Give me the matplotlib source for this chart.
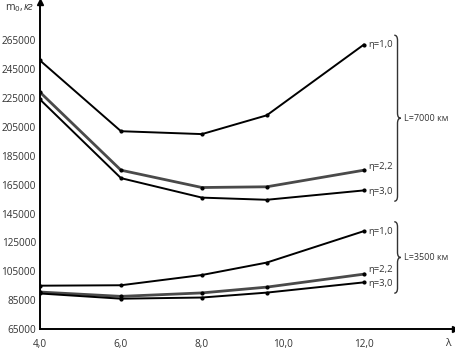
import matplotlib.pyplot as plt
import numpy as np
from matplotlib.path import Path
from matplotlib.patches import PathPatch

plt.rcParams['font.family'] = ['Open Sans', 'DejaVu Sans']

# === Data ===
lam = [4.0, 6.0, 8.0, 9.6, 12.0]
# L = 7000 km
m_7000_eta10 = [251000, 202000, 200000, 213000, 262000]
m_7000_eta22 = [229000, 175000, 163000, 163500, 175000]
m_7000_eta30 = [224000, 169500, 156000, 154500, 161000]
# L = 3500 km
m_3500_eta10 = [95000, 95300, 102400, 111000, 132800]
m_3500_eta22 = [90600, 87600, 90000, 94000, 103000]
m_3500_eta30 = [89600, 86000, 86800, 90200, 97300]

eta_labels = ["η=1,0", "η=2,2", "η=3,0"]
x_ticks = [4, 6, 8, 10, 12]
x_ticklabels = ["4,0", "6,0", "8,0", "10,0", "12,0"]
y_ticks = np.arange(65000, 265001, 20000)

groups = [
    ("L=7000 км", [m_7000_eta10, m_7000_eta22, m_7000_eta30]),
    ("L=3500 км", [m_3500_eta10, m_3500_eta22, m_3500_eta30]),
]
colors = ["black", "#4a4a4a", "black"]
widths = [1.4, 2.0, 1.4]
label_shift = [0, 3, -1]   # points, keeps eta labels apart

fig = plt.figure(figsize=(4.56, 3.51), dpi=100)
ax = fig.add_axes([40 / 456, 22 / 351, 415 / 456, 327 / 351])
ax.set_xlim(4.0, 14.25)
ax.set_ylim(65000, 291500)

for _, series in groups:
    for vals, c, lw in zip(series, colors, widths):
        ax.plot(lam, vals, color=c, lw=lw, marker="o", ms=2, mfc="black", mec="black")


def brace(ax, x, y0, y1, w=0.16, r=3500):
    ym = (y0 + y1) / 2
    verts = [(x, y1), (x + w / 2, y1), (x + w / 2, y1 - r),
             (x + w / 2, ym + r), (x + w / 2, ym), (x + w, ym),
             (x + w / 2, ym), (x + w / 2, ym - r),
             (x + w / 2, y0 + r), (x + w / 2, y0), (x, y0)]
    codes = [Path.MOVETO, Path.CURVE3, Path.CURVE3,
             Path.LINETO, Path.CURVE3, Path.CURVE3,
             Path.CURVE3, Path.CURVE3,
             Path.LINETO, Path.CURVE3, Path.CURVE3]
    ax.add_patch(PathPatch(Path(verts, codes), fc="none", ec="#333333", lw=1.0,
                           clip_on=False))
    return x + w, ym


for name, series in groups:
    ends = [s[-1] for s in series]
    for lab, v, sh in zip(eta_labels, ends, label_shift):
        ax.annotate(lab, (lam[-1], v), xytext=(3, sh), textcoords="offset points",
                    fontsize=6.8, va="center", ha="left", color="#333333")
    xr, ym = brace(ax, 12.75, min(ends) - 7500, max(ends) + 6500)
    ax.text(xr + 0.08, ym, name, fontsize=6.5, va="center", ha="left", color="#333333")

for s in ["top", "right"]:
    ax.spines[s].set_visible(False)
for s in ["left", "bottom"]:
    ax.spines[s].set_linewidth(1.4)
ax.plot(1, 0, ">k", ms=4, transform=ax.transAxes, clip_on=False)
ax.plot(0, 1, "^k", ms=4, transform=ax.transAxes, clip_on=False)

ax.set_xticks(x_ticks)
ax.set_xticklabels(x_ticklabels)
ax.set_yticks(y_ticks)
ax.tick_params(length=0, labelsize=7.2, labelcolor="#333333")
ax.tick_params(axis="x", pad=7)
ax.tick_params(axis="y", pad=3)

fig.text(5 / 456, 1 - 8 / 351, "m$_0$,", fontsize=7.5, va="center", ha="left", color="#333333")
fig.text(24 / 456, 1 - 8 / 351, "кг", fontsize=7.5, style="italic", va="center", ha="left", color="#333333")
fig.text(448 / 456, 1 - 343 / 351, "λ", fontsize=7.5, va="center", ha="center", color="#333333")

fig.savefig("out.png", dpi=100)
